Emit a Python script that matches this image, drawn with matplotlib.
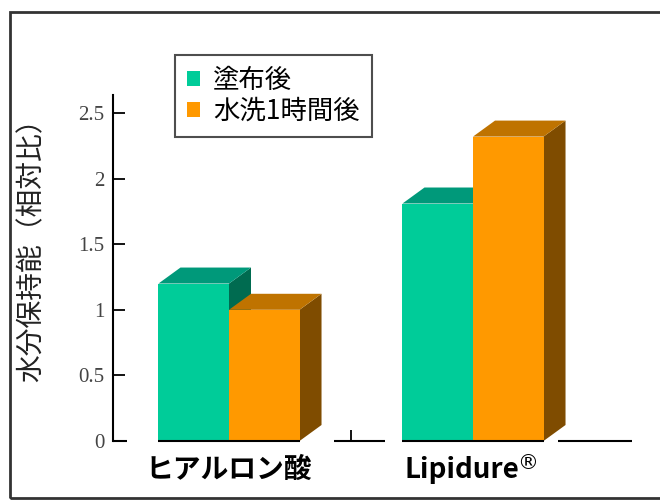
import matplotlib
matplotlib.use("Agg")
import matplotlib.pyplot as plt
from matplotlib.patches import Polygon, Rectangle, Patch
from matplotlib.ticker import FormatStrFormatter, FixedLocator

# --- data ---
categories = ["ヒアルロン酸", "Lipidure"]
series_names = ["塗布後", "水洗1時間後"]
after_apply = [1.20, 1.81]
after_wash = [1.00, 2.32]
y_ticks = [0, 0.5, 1, 1.5, 2, 2.5]

# face colours: front, top, side
green = ("#00CC99", "#00997A", "#006B50")
orange = ("#FF9900", "#BF7300", "#7F4C00")

plt.rcParams['font.family'] = ['Noto Sans CJK JP', 'DejaVu Sans']

fig = plt.figure(figsize=(6.6, 5.01), dpi=100)
W, H = 660, 501
# axes placed in pixel terms of the reference
ax = fig.add_axes([113 / W, (H - 441) / H, 519 / W, 346 / H])
ax.set_xlim(-0.4754, 1.6516)
ax.set_ylim(0, 2.637)

bar_w = 0.289
dx = 22 / 244.0          # depth in x data units
dy = 16 / 346.0 * 2.637  # depth in y data units


def bar3d(x0, v, cols):
    front, top, side = cols
    ax.add_patch(Polygon([(x0 + bar_w, 0), (x0 + bar_w + dx, dy),
                          (x0 + bar_w + dx, v + dy), (x0 + bar_w, v)],
                         closed=True, facecolor=side, edgecolor='none', clip_on=False))
    ax.add_patch(Polygon([(x0, v), (x0 + dx, v + dy),
                          (x0 + bar_w + dx, v + dy), (x0 + bar_w, v)],
                         closed=True, facecolor=top, edgecolor='none', clip_on=False))
    ax.add_patch(Rectangle((x0, 0), bar_w, v, facecolor=front,
                           edgecolor='none', clip_on=False))


for i in range(len(categories)):
    bar3d(i - bar_w, after_apply[i], green)
    bar3d(i, after_wash[i], orange)

# baseline pieces (front floor edge)
for a, b in [(-0.4754, -0.418), (-bar_w, bar_w), (0.43, 0.64),
             (1 - bar_w, 1 + bar_w), (1.348, 1.6516)]:
    ax.plot([a, b], [0, 0], color='black', lw=1.5, clip_on=False,
            solid_capstyle='butt', zorder=5)

for s in ['top', 'right', 'bottom']:
    ax.spines[s].set_visible(False)
ax.spines['left'].set_linewidth(1.5)

ax.yaxis.set_major_locator(FixedLocator(y_ticks))
ax.yaxis.set_major_formatter(FormatStrFormatter('%g'))
ax.tick_params(axis='y', direction='in', length=8.6, width=1.3, pad=6,
               labelsize=15, labelcolor='#444')
for lab in ax.get_yticklabels():
    lab.set_family('Liberation Serif')

ax.set_xticks([])
ax.xaxis.set_minor_locator(FixedLocator([0.5]))
ax.tick_params(axis='x', which='minor', direction='in', length=8, width=1.3)

ax.set_ylabel("水分保持能（相対比）", fontsize=20, color='#222')
ax.yaxis.set_label_coords(-66 / 519, (441 - 243) / 346)

# category labels
xt = ax.get_xaxis_transform()
ax.text(0, -0.084, categories[0], transform=xt, ha='center', va='center',
        fontsize=20, fontweight='bold')
lip = ax.text(0.955, -0.084, categories[1], transform=xt, ha='center', va='center',
              fontsize=20, fontweight='bold')
ax.annotate("®", xy=(1.0, 1.0), xycoords=lip, xytext=(-1.5, 2.5),
            textcoords='offset points', ha='left', va='top', fontsize=15,
            family='DejaVu Sans')

handles = [Patch(facecolor=green[0], edgecolor='none'),
           Patch(facecolor=orange[0], edgecolor='none')]
leg = fig.legend(handles, series_names, loc='upper left',
                 bbox_to_anchor=(175 / W, 1 - 55 / H), fontsize=19,
                 frameon=True, fancybox=False, borderaxespad=0,
                 handlelength=0.5, handleheight=0.5, handletextpad=0.5,
                 labelspacing=0.15, borderpad=0.45)
leg.get_frame().set_edgecolor('#222')
leg.get_frame().set_linewidth(1.5)

# outer frame of the picture
fig.add_artist(Rectangle((10 / W, 3 / H), 1.0, (498 - 12) / H,
                         transform=fig.transFigure, fill=False,
                         edgecolor='#333', lw=2, clip_on=False))

fig.savefig("out.png", dpi=100)
